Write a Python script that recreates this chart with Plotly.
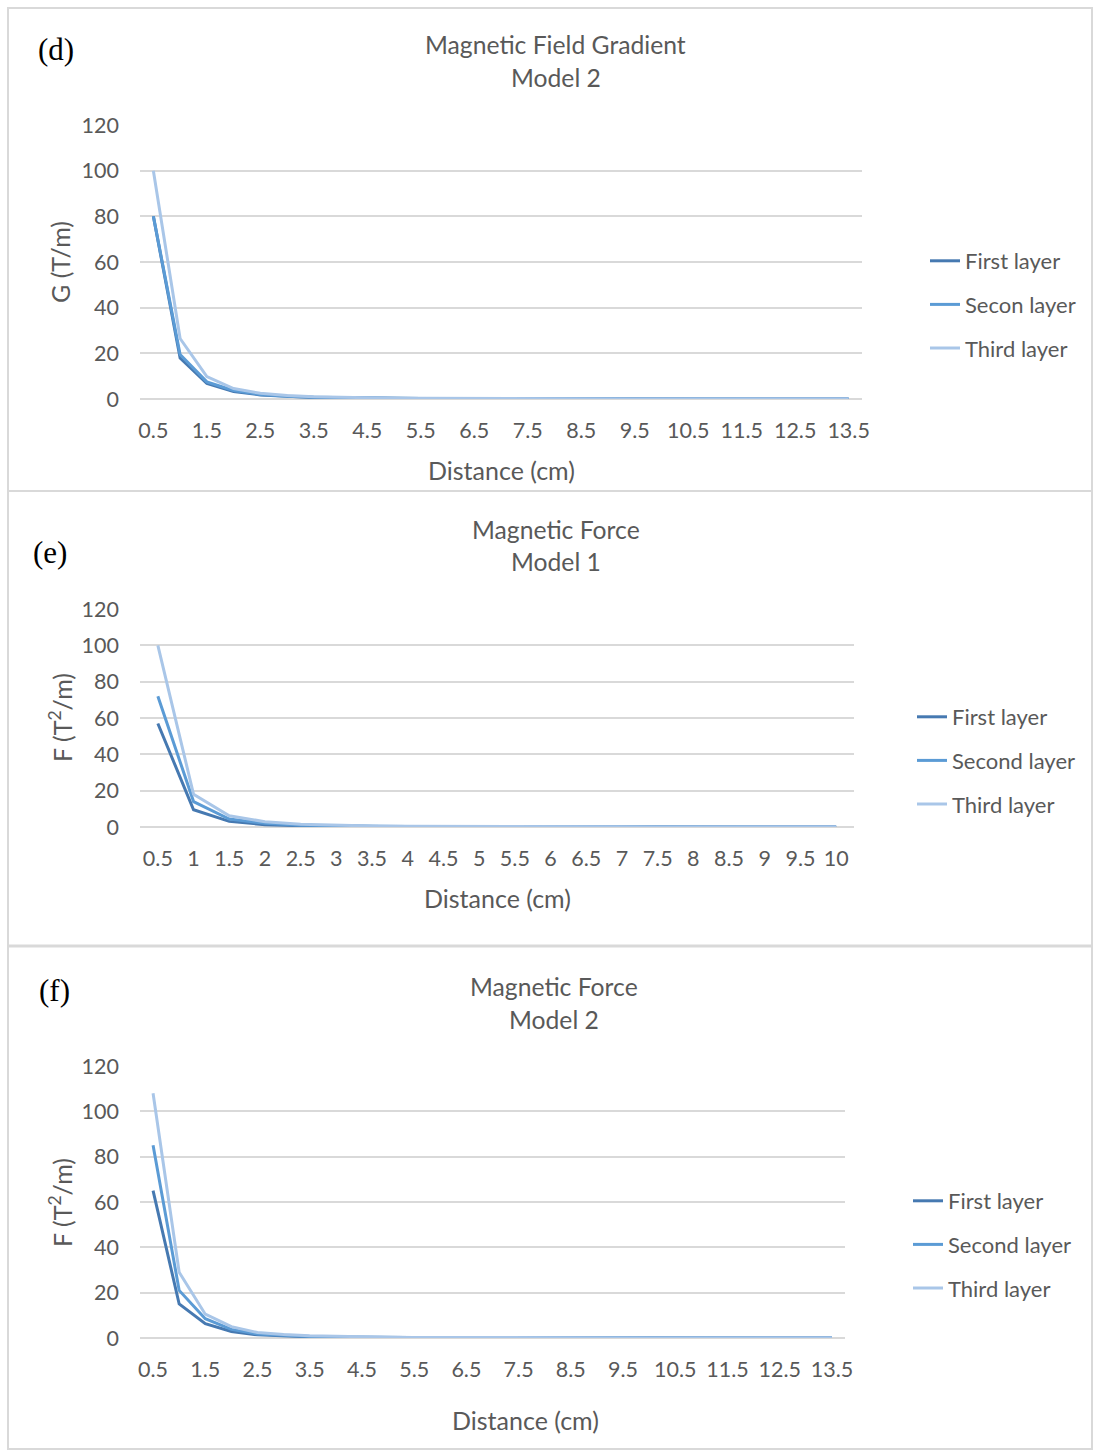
import plotly.graph_objects as go

W, H = 1093, 1450

# ---------------- data ----------------
dist_d = [0.5 * i for i in range(1, 28)]          # 0.5 .. 13.5
dist_e = [0.5 * i for i in range(1, 21)]          # 0.5 .. 10
dist_f = [0.5 * i for i in range(1, 28)]          # 0.5 .. 13.5

g2_first = [80, 18, 6.8, 3.3, 1.8, 1.1, 0.7, 0.5, 0.35, 0.25, 0.2, 0.15, 0.12, 0.1, 0.08, 0.06,
            0.05, 0.04, 0.04, 0.03, 0.03, 0.02, 0.02, 0.02, 0.02, 0.01, 0.01]
g2_second = [80, 19.5, 7.5, 3.7, 2.0, 1.2, 0.8, 0.55, 0.4, 0.3, 0.22, 0.17, 0.13, 0.1, 0.08, 0.07,
             0.06, 0.05, 0.04, 0.03, 0.03, 0.03, 0.02, 0.02, 0.02, 0.02, 0.01]
g2_third = [100, 26.5, 9.8, 4.6, 2.5, 1.5, 1.0, 0.7, 0.5, 0.37, 0.28, 0.21, 0.17, 0.13, 0.11, 0.09,
            0.07, 0.06, 0.05, 0.04, 0.04, 0.03, 0.03, 0.03, 0.02, 0.02, 0.02]

f1_first = [57, 9.5, 3.1, 1.3, 0.7, 0.4, 0.25, 0.17, 0.12, 0.09, 0.07, 0.05, 0.04, 0.03, 0.03,
            0.02, 0.02, 0.02, 0.01, 0.01]
f1_second = [72, 14, 4.4, 2.0, 1.0, 0.6, 0.38, 0.25, 0.18, 0.13, 0.1, 0.08, 0.06, 0.05, 0.04,
             0.03, 0.03, 0.02, 0.02, 0.02]
f1_third = [100, 18, 6.2, 2.9, 1.5, 0.9, 0.55, 0.37, 0.26, 0.19, 0.14, 0.11, 0.09, 0.07, 0.06,
            0.05, 0.04, 0.03, 0.03, 0.02]

f2_first = [65, 15, 6.3, 2.9, 1.4, 0.8, 0.5, 0.35, 0.25, 0.18, 0.14, 0.11, 0.09, 0.07, 0.06, 0.05,
            0.04, 0.03, 0.03, 0.02, 0.02, 0.02, 0.02, 0.01, 0.01, 0.01, 0.01]
f2_second = [85, 21, 8.5, 3.8, 1.8, 1.1, 0.7, 0.48, 0.34, 0.25, 0.19, 0.15, 0.12, 0.1, 0.08, 0.07,
             0.06, 0.05, 0.04, 0.03, 0.03, 0.03, 0.02, 0.02, 0.02, 0.02, 0.01]
f2_third = [108, 29, 10.5, 5.0, 2.4, 1.5, 1.0, 0.68, 0.48, 0.35, 0.27, 0.21, 0.17, 0.14, 0.11, 0.09,
            0.08, 0.07, 0.06, 0.05, 0.04, 0.04, 0.03, 0.03, 0.03, 0.02, 0.02]

names_d = ["First layer", "Secon layer", "Third layer"]
names_ef = ["First layer", "Second layer", "Third layer"]
y_ticks = [0, 20, 40, 60, 80, 100, 120]
x_ticks_d = [0.5 + i for i in range(14)]
x_ticks_e = dist_e
x_ticks_f = [0.5 + i for i in range(14)]

def fmt(v):
    return str(int(v)) if float(v).is_integer() else str(v)

colors = ["#4679B1", "#5B9BD5", "#A9C6E8"]
TXT = "#595959"
GRID = "#D9D9D9"
FONT = "Lato"
TICK = 21.5

fig = go.Figure()

def px_x(p):
    return p / W

def px_y(p):
    return 1 - p / H

panels = [
    dict(x=dist_d, ys=[g2_first, g2_second, g2_third], names=names_d, xa="x", ya="y",
         legend="legend", xt=x_ticks_d, box=(140, 862, 125, 399)),
    dict(x=dist_e, ys=[f1_first, f1_second, f1_third], names=names_ef, xa="x2", ya="y2",
         legend="legend2", xt=x_ticks_e, box=(140, 854, 609, 827)),
    dict(x=dist_f, ys=[f2_first, f2_second, f2_third], names=names_ef, xa="x3", ya="y3",
         legend="legend3", xt=x_ticks_f, box=(140, 845, 1066, 1338)),
]

for pi, p in enumerate(panels):
    for k in range(3):
        fig.add_trace(go.Scatter(
            x=p["x"], y=p["ys"][k], name=p["names"][k], mode="lines",
            line=dict(color=colors[k], width=3), xaxis=p["xa"], yaxis=p["ya"],
            legend=p["legend"], legendgroup=f"g{pi}{k}"))

layout = dict(
    width=W, height=H, autosize=False,
    margin=dict(l=0, r=0, t=0, b=0, pad=0, autoexpand=False),
    paper_bgcolor="white", plot_bgcolor="white",
    font=dict(family=FONT, color=TXT, size=TICK),
    showlegend=True,
)

for i, p in enumerate(panels):
    sfx = "" if i == 0 else str(i + 1)
    x0, x1, y0, y1 = p["box"]
    n = len(p["x"])
    layout["xaxis" + sfx] = dict(
        domain=[px_x(x0), px_x(x1)], range=[0.25, 0.5 * n + 0.25],
        tickvals=p["xt"], ticktext=[fmt(v) for v in p["xt"]],
        showgrid=False, zeroline=False, showline=False, ticks="", automargin=False,
        ticklabelstandoff=16, tickfont=dict(size=TICK, color=TXT, family=FONT),
        anchor="y" + sfx, fixedrange=True)
    layout["yaxis" + sfx] = dict(
        domain=[px_y(y1), px_y(y0)], range=[0, 120],
        tickvals=y_ticks, ticktext=[str(v) for v in y_ticks],
        showgrid=True, gridcolor=GRID, gridwidth=1.5, automargin=False,
        zeroline=True, zerolinecolor=GRID, zerolinewidth=1.5, showline=False, ticks="",
        ticklabelstandoff=20, tickfont=dict(size=TICK, color=TXT, family=FONT),
        anchor="x" + sfx, fixedrange=True)

legend_pos = [(925, 240), (912, 696), (908, 1180)]
for i, (lx, ly) in enumerate(legend_pos):
    key = "legend" if i == 0 else f"legend{i + 1}"
    layout[key] = dict(x=px_x(lx), y=px_y(ly), xanchor="left", yanchor="top",
                       font=dict(size=22, color=TXT, family=FONT),
                       tracegroupgap=12, bgcolor="rgba(0,0,0,0)", itemwidth=30)

fig.update_layout(**layout)

ann = []
def text(x, y, s, size=24, family=FONT, color=TXT, angle=0):
    ann.append(dict(x=px_x(x), y=px_y(y), xref="paper", yref="paper", text=s,
                    showarrow=False, xanchor="center", yanchor="middle",
                    font=dict(size=size, family=family, color=color), textangle=angle))

# titles
for (cx, y1, y2, l1, l2) in [(556, 44, 77, "Magnetic Field Gradient", "Model 2"),
                             (556, 529, 561, "Magnetic Force", "Model 1"),
                             (554, 986, 1019, "Magnetic Force", "Model 2")]:
    text(cx, y1, l1, size=24.7)
    text(cx, y2, l2, size=24.7)

# panel labels
text(56, 50, "(d)", size=31, family="Liberation Serif", color="#000000")
text(50, 553, "(e)", size=31, family="Liberation Serif", color="#000000")
text(55, 990, "(f)", size=31, family="Liberation Serif", color="#000000")

# axis titles
text(501, 470, "Distance (cm)", size=25)
text(497, 898, "Distance (cm)", size=25)
text(525, 1420, "Distance (cm)", size=25)
text(60, 262, "G (T/m)", size=25, angle=-90)
text(60, 718, "F (T<sup>2</sup>/m)", size=25, angle=-90)
text(60, 1203, "F (T<sup>2</sup>/m)", size=25, angle=-90)

shapes = [
    dict(type="rect", xref="paper", yref="paper", x0=px_x(8), x1=px_x(1092), y0=px_y(1449), y1=px_y(8),
         line=dict(color=GRID, width=2)),
    dict(type="line", xref="paper", yref="paper", x0=px_x(8), x1=1, y0=px_y(491), y1=px_y(491),
         line=dict(color=GRID, width=2)),
    dict(type="line", xref="paper", yref="paper", x0=px_x(8), x1=1, y0=px_y(946), y1=px_y(946),
         line=dict(color=GRID, width=3)),
]
fig.update_layout(annotations=ann, shapes=shapes)

fig.write_html(
    "out.html",
    config={"displayModeBar": False, "responsive": False},
    post_script=(
        "document.documentElement.style.overflow='hidden';"
        "document.body.style.margin='0px';document.body.style.padding='0px';"
        "document.body.style.overflow='hidden';"
        "var d=document.getElementById('{plot_id}');"
        "d.style.position='fixed';d.style.left='0px';d.style.top='0px';"
    ),
)
